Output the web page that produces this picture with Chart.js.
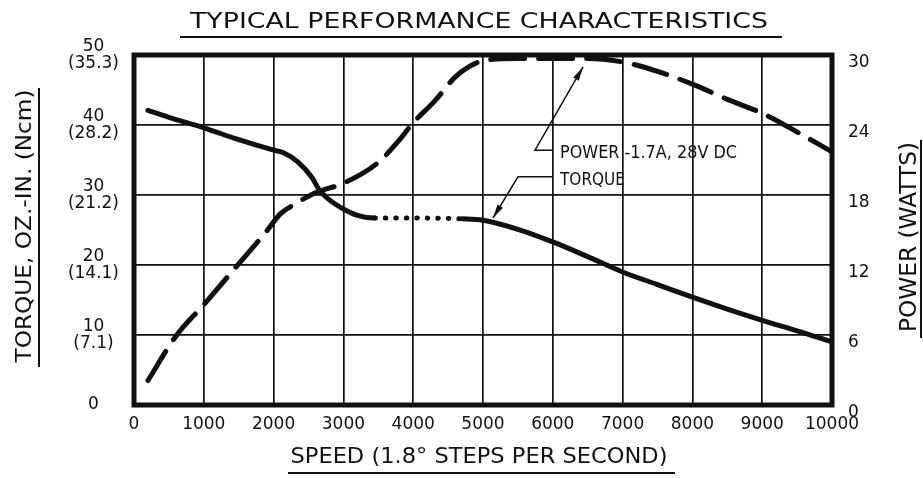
<!DOCTYPE html>
<html>
<head>
<meta charset="utf-8">
<script src="https://cdn.jsdelivr.net/npm/chart.js@4.4.0/dist/chart.umd.min.js"></script>
<style>
  body { margin: 0; background: #fff; }
  #wrap { width: 923px; height: 478px; }
</style>
</head>
<body>
<div id="wrap"><canvas id="canvas" width="923" height="478"></canvas></div>
<script>
// values
const speedTorque = [200, 500, 1000, 1500, 2000, 2150, 2350, 2550, 2650, 2800, 3000, 3200, 3450, 4000, 4700, 5000, 5500, 6000, 6500, 7000, 7500, 8000, 8500, 9000, 9500, 10000];
const torqueOzIn = [42.1, 41.1, 39.6, 37.9, 36.4, 36.0, 34.7, 32.5, 30.8, 29.3, 28.0, 27.1, 26.7, 26.7, 26.6, 26.4, 25.1, 23.3, 21.2, 19.0, 17.2, 15.4, 13.7, 12.1, 10.6, 9.0];

const speedPower = [200, 600, 1000, 1500, 1900, 2100, 2300, 2600, 3000, 3500, 3800, 4000, 4300, 4600, 4800, 5000, 5500, 6000, 6500, 7000, 7500, 8000, 8500, 9000, 9500, 10000];
const powerWatts = [2.1, 5.9, 8.6, 12.1, 14.9, 16.4, 17.2, 18.2, 19.0, 20.8, 22.7, 24.2, 26.0, 28.1, 29.0, 29.5, 29.7, 29.7, 29.7, 29.4, 28.6, 27.5, 26.2, 25.0, 23.4, 21.7];

const torqueTicks = [0, 10, 20, 30, 40, 50];
const ncmTicks = ["0", "(7.1)", "(14.1)", "(21.2)", "(28.2)", "(35.3)"];
const powerTicks = [0, 6, 12, 18, 24, 30];
const dottedFrom = 3450, dottedTo = 4700;

const FONT = "DejaVu Sans";

function fitText(ctx, text, x, y, size, width, angle, align) {
  ctx.save();
  ctx.translate(x, y);
  ctx.rotate(angle || 0);
  ctx.font = size + "px '" + FONT + "'";
  const w = ctx.measureText(text).width;
  ctx.scale(width / w, 1);
  ctx.textAlign = align || "center";
  ctx.textBaseline = "alphabetic";
  ctx.fillStyle = "#111";
  ctx.fillText(text, 0, 0);
  ctx.restore();
}

function line(ctx, pts, w) {
  ctx.beginPath();
  ctx.moveTo(pts[0][0], pts[0][1]);
  for (let i = 1; i < pts.length; i++) ctx.lineTo(pts[i][0], pts[i][1]);
  ctx.lineWidth = w;
  ctx.strokeStyle = "#111";
  ctx.stroke();
}

function arrowHead(ctx, from, tip) {
  const a = Math.atan2(tip[1] - from[1], tip[0] - from[0]);
  const len = 14, half = 3.2;
  ctx.save();
  ctx.translate(tip[0], tip[1]);
  ctx.rotate(a);
  ctx.beginPath();
  ctx.moveTo(0, 0);
  ctx.lineTo(-len, -half);
  ctx.lineTo(-len, half);
  ctx.closePath();
  ctx.fillStyle = "#111";
  ctx.fill();
  ctx.restore();
}

const decor = {
  id: "decor",
  beforeDraw(chart) {
    const ctx = chart.ctx;
    ctx.save();
    ctx.fillStyle = "#fff";
    ctx.fillRect(0, 0, chart.width, chart.height);
    ctx.restore();
  },
  afterDatasetsDraw(chart) {
    const ctx = chart.ctx;
    const a = chart.chartArea;
    const xs = chart.scales.x, ys = chart.scales.y;
    const P = (s, t) => [xs.getPixelForValue(s), ys.getPixelForValue(t)];
    ctx.save();
    // frame
    ctx.lineWidth = 5;
    ctx.strokeStyle = "#111";
    ctx.strokeRect(a.left, a.top, a.right - a.left, a.bottom - a.top);

    // titles
    fitText(ctx, "TYPICAL PERFORMANCE CHARACTERISTICS", 479, 28, 22, 578);
    line(ctx, [[180, 37], [782, 37]], 2);
    fitText(ctx, "SPEED (1.8° STEPS PER SECOND)", 479, 463, 22, 377);
    line(ctx, [[288, 473], [675, 473]], 2);
    fitText(ctx, "TORQUE, OZ.-IN. (Ncm)", 31, 226, 22, 273, -Math.PI / 2);
    line(ctx, [[39, 88], [39, 367]], 2);
    fitText(ctx, "POWER (WATTS)", 916, 237, 23, 190, -Math.PI / 2);
    line(ctx, [[921, 140], [921, 338]], 2);

    // callouts
    const pStart = P(6003, 36.4), pCorner = P(5745, 36.4), pTip = P(6433, 48.3);
    line(ctx, [pStart, pCorner, pTip], 1.5);
    arrowHead(ctx, pCorner, pTip);
    const pl = P(6103, 35.3);
    fitText(ctx, "POWER -1.7A, 28V DC", pl[0], pl[1], 18, 177, 0, "left");

    const tStart = P(6003, 32.6), tCorner = P(5501, 32.6), tTip = P(5143, 26.7);
    line(ctx, [tStart, tCorner, tTip], 1.5);
    arrowHead(ctx, tCorner, tTip);
    const tl = P(6103, 31.4);
    fitText(ctx, "TORQUE", tl[0], tl[1], 18, 65, 0, "left");
    ctx.restore();
  }
};

const tickFont = { family: FONT, size: 17, lineHeight: 1.0 };

new Chart(document.getElementById("canvas").getContext("2d"), {
  type: "line",
  data: {
    datasets: [
      {
        label: "Torque",
        data: speedTorque.map((s, i) => ({ x: s, y: torqueOzIn[i] })),
        yAxisID: "y",
        borderColor: "#111",
        borderWidth: 5,
        borderCapStyle: "round",
        borderJoinStyle: "round",
        pointRadius: 0,
        cubicInterpolationMode: "monotone",
        segment: {
          borderDash: (c) =>
            c.p0.parsed.x >= dottedFrom && c.p1.parsed.x <= dottedTo ? [0.5, 10] : undefined,
        },
      },
      {
        label: "Power",
        data: speedPower.map((s, i) => ({ x: s, y: powerWatts[i] })),
        yAxisID: "y1",
        borderColor: "#111",
        borderWidth: 5,
        borderCapStyle: "round",
        borderDash: [34, 14],
        pointRadius: 0,
        cubicInterpolationMode: "monotone",
      },
    ],
  },
  options: {
    responsive: false,
    animation: false,
    layout: { padding: { top: 55, left: 0, right: 0, bottom: 0 } },
    plugins: { legend: { display: false }, tooltip: { enabled: false }, title: { display: false } },
    scales: {
      x: {
        type: "linear",
        min: 0,
        max: 10000,
        afterFit: (s) => { s.height = 73; },
        ticks: { stepSize: 1000, padding: 11, color: "#111", font: tickFont, maxRotation: 0, callback: (v) => String(v) },
        grid: { color: "#111", lineWidth: 1.7, drawTicks: false },
        border: { display: false },
      },
      y: {
        position: "left",
        min: 0,
        max: 50,
        afterFit: (s) => { s.width = 134; },
        afterBuildTicks: (s) => { s.ticks = torqueTicks.map((v) => ({ value: v })); },
        ticks: {
          padding: 15,
          crossAlign: "center",
          color: "#111",
          font: tickFont,
          callback: (v, i) => (v === 0 ? "0" : [String(v), ncmTicks[i]]),
        },
        grid: { color: "#111", lineWidth: 1.7, drawTicks: false },
        border: { display: false },
      },
      y1: {
        position: "right",
        min: 0,
        max: 30,
        afterFit: (s) => { s.width = 91; },
        afterBuildTicks: (s) => { s.ticks = powerTicks.map((v) => ({ value: v })); },
        ticks: { padding: 16, labelOffset: 8, color: "#111", font: tickFont },
        grid: { display: false, drawTicks: false },
        border: { display: false },
      },
    },
  },
  plugins: [decor],
});
</script>
</body>
</html>
